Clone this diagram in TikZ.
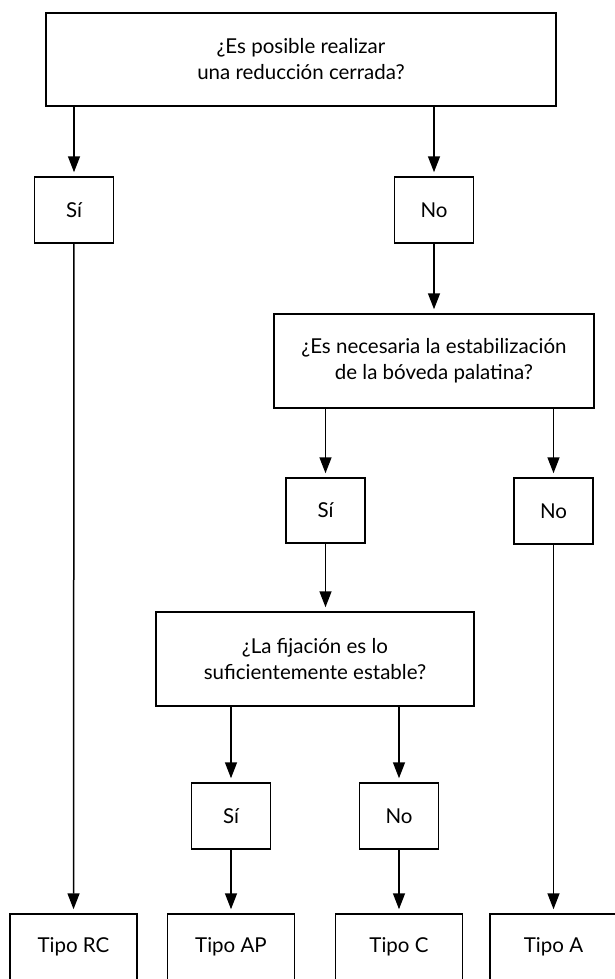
\documentclass[tikz,border=0pt]{standalone}
\usepackage{fontspec}
\setmainfont{Lato}
\usetikzlibrary{arrows.meta}

\begin{document}
\begin{tikzpicture}[x=1pt, y=-1pt,
    box/.style={draw, line width=1.5pt, align=center, inner sep=0pt,
        minimum width=79, minimum height=66,
        font=\fontsize{20.5}{26}\selectfont},
    ask/.style={box, minimum height=94},
    result/.style={box, minimum width=127},
    link/.style={line width=1.5pt, shorten >=4pt,
        -{Triangle[length=16pt, width=12pt]}}]
    \useasboundingbox (0,0) rectangle (615,979);
    \clip (0,0) rectangle (615,979);

    % Questions
    \node[ask, minimum width=510, minimum height=93] (q1) at (301, 59.5)
        {¿Es posible realizar\\una reducción cerrada?};
    \node[ask, minimum width=320] (q2) at (434, 361)
        {¿Es necesaria la estabilización\\de la bóveda palatina?};
    \node[ask, minimum width=318] (q3) at (315, 659)
        {¿La fijación es lo\\suficientemente estable?};

    % Answers
    \node[box] (si1) at (74, 210) {Sí};
    \node[box] (no1) at (434, 210) {No};
    \node[box, minimum height=65] (si2) at (325.5, 510.5) {Sí};
    \node[box] (no2) at (553.5, 511) {No};
    \node[box] (si3) at (231, 816) {Sí};
    \node[box] (no3) at (399, 816) {No};

    % Results
    \node[result] (rc) at (73.5, 947) {Tipo RC};
    \node[result] (ap) at (231, 947) {Tipo AP};
    \node[result] (tc) at (399, 947) {Tipo C};
    \node[result] (ta) at (553.5, 947) {Tipo A};

    % Arrows
    \draw[link] (q1.south -| si1) -- (si1);
    \draw[link] (q1.south -| no1) -- (no1);
    \draw[link] (si1) -- (rc);
    \draw[link] (no1) -- (no1 |- q2.north);
    \draw[link] (q2.south -| si2) -- (si2);
    \draw[link] (q2.south -| no2) -- (no2);
    \draw[link] (no2) -- (ta);
    \draw[link] (si2) -- (si2 |- q3.north);
    \draw[link] (q3.south -| si3) -- (si3);
    \draw[link] (q3.south -| no3) -- (no3);
    \draw[link] (si3) -- (ap);
    \draw[link] (no3) -- (tc);
\end{tikzpicture}
\end{document}
